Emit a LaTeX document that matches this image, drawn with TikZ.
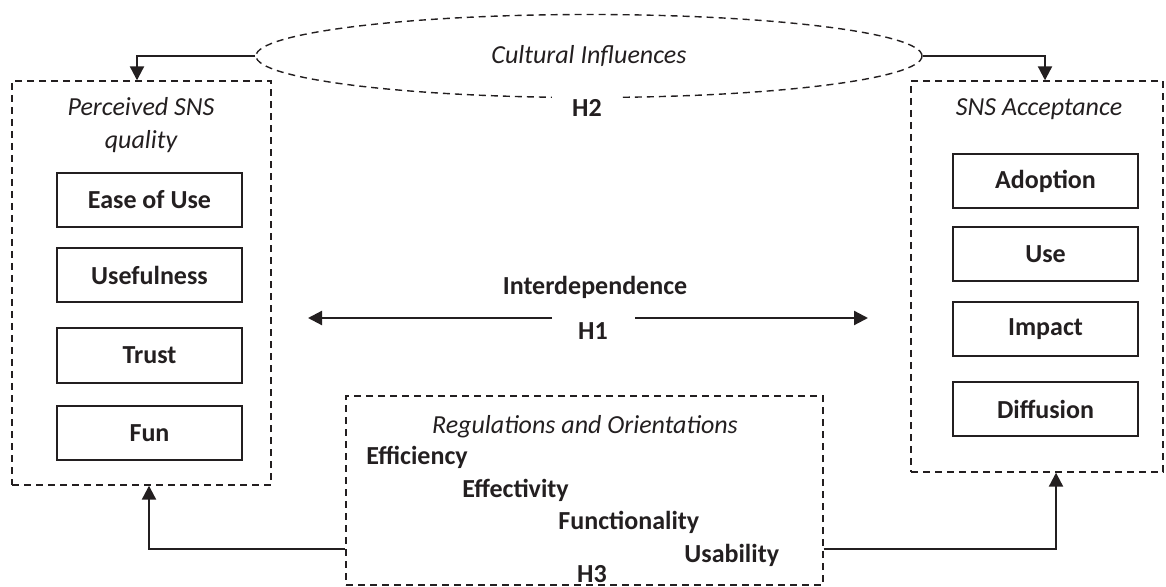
\documentclass[tikz,border=0pt]{standalone}
\usepackage{fontspec}
\setmainfont{Carlito}
\usetikzlibrary{shapes.geometric,arrows.meta}
\definecolor{ink}{RGB}{35,31,32}
\begin{document}
\begin{tikzpicture}[x=0.5pt,y=-0.5pt,
  outer/.style={draw=ink, dash pattern=on 3.5pt off 2.5pt, line width=0.7pt, inner sep=0pt},
  inbox/.style={draw=ink, line width=1pt, minimum width=92.5pt, minimum height=27pt, inner sep=0pt,
    text=ink, font=\fontsize{13}{15.6}\selectfont\bfseries},
  ttl/.style={text=ink, inner sep=0pt, align=center, font=\fontsize{13}{16.5}\selectfont\itshape},
  bld/.style={text=ink, inner sep=0pt, font=\fontsize{13}{15.6}\selectfont\bfseries},
  mask/.style={fill=white, text=ink, font=\fontsize{13}{15.6}\selectfont\bfseries},
  arr/.style={draw=ink, line width=1.1pt, -{Triangle[length=7pt,width=7pt]}}
]
\useasboundingbox (0,0) rectangle (1166,587);

% containers
\node[outer, minimum width=129.5pt, minimum height=202pt] (lbox) at (141.5,283) {};
\node[outer, minimum width=126pt, minimum height=195.5pt] (rbox) at (1037,276.5) {};
\node[outer, minimum width=238.5pt, minimum height=94.5pt] (bbox) at (584.5,490.5) {};
\node[outer, ellipse, minimum width=333pt, minimum height=41.5pt, text=ink,
      font=\fontsize{13}{15.6}\selectfont\itshape] (ell) at (589,56) {Cultural Influences};

% hypothesis labels on borders
\node[mask, minimum width=35pt, minimum height=14pt, inner sep=0pt] (h2) at (587,108) {H2};
\node[mask, minimum width=28pt, minimum height=10pt, inner sep=0pt] (h3) at (592,574) {H3};

% titles
\node[ttl] (ltitle) at (141,125.5) {Perceived SNS\\quality};
\node[ttl] (rtitle) at (1039,109) {SNS Acceptance};
\node[ttl] (btitle) at (585,427) {Regulations and Orientations};

% left items
\node[inbox] (ease) at (149.5,200) {Ease of Use};
\node[inbox] (usef) at (149.5,275) {Usefulness};
\node[inbox] (trust) at (149.5,355.5) {Trust};
\node[inbox] (fun) at (149.5,433) {Fun};

% right items
\node[inbox] (adop) at (1045.5,181) {Adoption};
\node[inbox] (use) at (1045.5,254) {Use};
\node[inbox] (imp) at (1045.5,329) {Impact};
\node[inbox] (diff) at (1045.5,409) {Diffusion};

% regulation items
\node[bld, anchor=west] (effi) at (366,457) {Efficiency};
\node[bld, anchor=west] (effe) at (462,490) {Effectivity};
\node[bld, anchor=west] (func) at (558,522) {Functionality};
\node[bld, anchor=west] (usab) at (684,555) {Usability};

% interdependence
\node[bld] (inter) at (595,287) {Interdependence};
\node[bld] (h1) at (593,331) {H1};
\coordinate (h1l) at (552,318);
\coordinate (h1r) at (635,318);
\coordinate (tipl) at (308,318);
\coordinate (tipr) at (868,318);
\draw[arr] (h1l) -- (tipl);
\draw[arr] (h1r) -- (tipr);

% connectors
\draw[arr] (ell.west) -| ([xshift=-2.25pt]lbox.north);
\draw[arr] (ell.east) -| ([xshift=4pt]rbox.north);
\draw[arr] ([yshift=-29.25pt]bbox.west) -| ([xshift=3.75pt]lbox.south);
\draw[arr] ([yshift=-29.25pt]bbox.east) -| ([xshift=9.5pt]rbox.south);
\end{tikzpicture}
\end{document}
